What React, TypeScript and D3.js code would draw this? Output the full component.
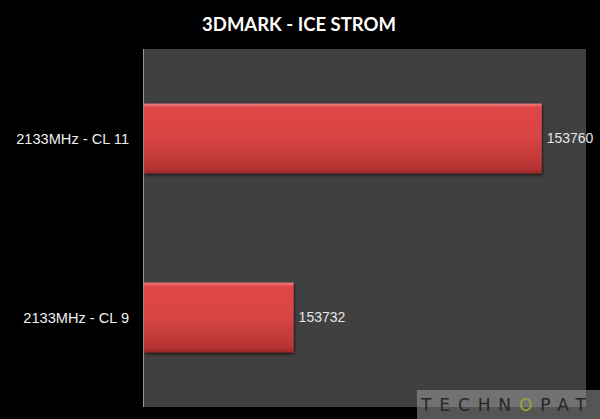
import React from 'react';
import * as d3 from 'd3';

const categories = ['2133MHz - CL 11', '2133MHz - CL 9'];
const scores = [153760, 153732];
const xDomain = [153715, 153765];
const title = '3DMARK - ICE STROM';

const width = 600;
const height = 419;
const margin = { top: 49, right: 14, bottom: 12, left: 143 };

export default function App() {
  const w = width - margin.left - margin.right;
  const h = height - margin.top - margin.bottom;

  const x = d3.scaleLinear().domain(xDomain).range([0, w]);
  const y = d3.scaleBand().domain(categories).range([0, h]).paddingInner(0.61).paddingOuter(0.305);

  return (
    <svg width={width} height={height} style={{ position: 'absolute', left: 0, top: 0, display: 'block' }}>
      <defs>
        <linearGradient id="barFill" x1="0" y1="0" x2="0" y2="1">
          <stop offset="0%" stopColor="#ee7a7a" />
          <stop offset="6%" stopColor="#df4646" />
          <stop offset="50%" stopColor="#d84444" />
          <stop offset="92%" stopColor="#b73434" />
          <stop offset="100%" stopColor="#9a2a2a" />
        </linearGradient>
        <filter id="shadow" x="-5%" y="-20%" width="110%" height="150%">
          <feDropShadow dx="1" dy="2" stdDeviation="1.5" floodColor="#000" floodOpacity="0.6" />
        </filter>
      </defs>
      <rect width={width} height={height} fill="#000" />
      <text x={299} y={31} textAnchor="middle" fill="#fff" fontFamily="Lato, 'Open Sans', sans-serif"
        fontWeight="bold" fontSize={18.5}>{title}</text>

      <g transform={`translate(${margin.left},${margin.top})`}>
        <rect width={w} height={h} fill="#404040" />
        <line x1={0.5} x2={0.5} y1={0} y2={h} stroke="#9a9a9a" strokeWidth={1} />
        {categories.map((c, i) => (
          <g key={c}>
            <rect x={1} y={y(c)} width={x(scores[i]) - 1} height={y.bandwidth()}
              fill="url(#barFill)" filter="url(#shadow)" />
            <text x={x(scores[i]) + 5} y={(y(c) as number) + y.bandwidth() / 2} dy="0.35em"
              fill="#e6e6e6" fontFamily="Arial, 'Liberation Sans', sans-serif" fontSize={14}>{scores[i]}</text>
            <text x={-14} y={(y(c) as number) + y.bandwidth() / 2} dy="0.35em" textAnchor="end"
              fill="#f0f0f0" fontFamily="Arial, 'Liberation Sans', sans-serif" fontSize={14.6}>{c}</text>
          </g>
        ))}
      </g>

      <g>
        <rect x={417} y={390} width={183} height={29} fill="#9a9a9a" opacity={0.55} />
        <text x={421} y={411} fill="#262626" fontFamily="'DejaVu Sans', sans-serif" fontSize={17}
          letterSpacing={7.2} textLength={172} lengthAdjust="spacing">
          TECHN<tspan fill="#8fa83a">O</tspan>PAT
        </text>
      </g>
    </svg>
  );
}
